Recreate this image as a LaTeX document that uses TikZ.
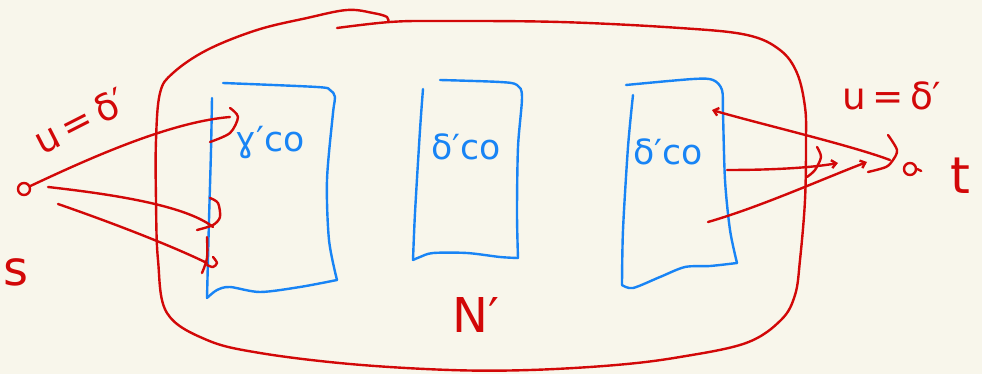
\documentclass[tikz,border=0pt]{standalone}
\usepackage{fontspec}
\setmainfont{DejaVu Sans}
\usetikzlibrary{arrows.meta}
\definecolor{bg}{RGB}{248,246,235}
\definecolor{pen}{RGB}{210,8,8}
\definecolor{ink}{RGB}{24,132,245}
\begin{document}
\begin{tikzpicture}[x=0.75pt,y=-0.75pt,line cap=round,line join=round,
  pr/.style={draw=pen,line width=1.8pt},
  pb/.style={draw=ink,line width=1.8pt},
  smalltip/.style={-{Straight Barb[length=3.5pt,width=6pt]}},
  rlbl/.style={text=pen,inner sep=0pt,font=\fontsize{28}{30}\selectfont},
  blbl/.style={text=ink,inner sep=0pt,font=\fontsize{26}{28}\selectfont},
  dotnode/.style={circle,draw=pen,line width=1.8pt,minimum size=9pt,inner sep=0pt}]
\fill[bg] (0,0) rectangle (982,374);
\useasboundingbox (0,0) rectangle (982,374);

% outer network N'
\draw[pr] plot[smooth,tension=0.6] coordinates {(337,28) (390,22) (440,21) (560,22) (680,28) (747,35) (780,50) (797,73) (805,107) (806,140) (805,200) (800,260) (795,295) (781,320) (746,343) (680,357) (616,365) (530,370) (450,370) (350,364) (260,353) (207,340) (167,313) (158,260) (156,200) (156,140) (160,93) (173,73) (207,50) (257,30) (307,18) (347,10) (373,13) (387,17) (388,22)};

% box 1
\draw[pb] plot[smooth] coordinates {(212,98) (211,150) (209,220) (207,298)};
\draw[pb] plot[smooth] coordinates {(207,298) (217,290) (230,287) (260,292) (300,287) (337,280)};
\draw[pb] plot[smooth,tension=0.5] coordinates {(337,280) (329,240) (327,180) (333,113) (335,97) (330,90) (317,87) (223,83)};
% box 2
\draw[pb] plot[smooth] coordinates {(423,89) (420,130) (415,213) (413,260)};
\draw[pb] plot[smooth] coordinates {(413,260) (420,257) (433,253) (467,253) (500,257) (518,258)};
\draw[pb] plot[smooth,tension=0.5] coordinates {(518,258) (517,213) (518,147) (522,97) (517,85) (500,82) (440,80)};
% box 3
\draw[pb] plot[smooth] coordinates {(633,95) (628,147) (623,230) (622,285)};
\draw[pb] plot[smooth] coordinates {(622,285) (633,288) (660,277) (685,267) (710,266) (737,263)};
\draw[pb] plot[smooth,tension=0.5] coordinates {(737,263) (730,230) (725,180) (723,113) (722,90) (713,80) (693,79) (626,85)};

% box labels
\node[blbl] (g1) at (270,143) {ɣ′co};
\node[blbl] (g2) at (466,147) {δ′co};
\node[blbl] (g3) at (668,152) {δ′co};

% nodes
\node[dotnode] (s) at (24,189) {};
\node[dotnode] (t) at (910,169) {};
\coordinate (p1) at (230,117);
\coordinate (p2a) at (48,187);
\coordinate (p2) at (213,227);
\coordinate (p3a) at (58,204);
\coordinate (p3) at (207,263);
\coordinate (q1) at (712,110);
\coordinate (q2a) at (727,170);
\coordinate (q2) at (838,163);
\coordinate (q3a) at (708,222);
\coordinate (q3) at (867,162);
\coordinate (q1a) at (890,160);

% left connectors
\draw[pr] (s) .. controls (90,158) and (170,122) .. (p1);
\draw[pr] plot[smooth] coordinates {(230,108) (238,117) (230,133) (210,142)};
\draw[pr] (p2a) .. controls (110,194) and (185,205) .. (p2);
\draw[pr] plot[smooth] coordinates {(210,198) (218,203) (220,217) (213,225) (197,230)};
\draw[pr] (p3a) .. controls (110,222) and (170,245) .. (p3);
\draw[pr] plot[smooth] coordinates {(207,237) (207,258) (202,273)};
\draw[pr] plot[smooth] coordinates {(213,257) (217,263) (213,267) (207,265)};

% right connectors
\draw[pr,smalltip] (q1a) .. controls (850,145) and (760,124) .. (q1);
\draw[pr,smalltip] (q2a) .. controls (770,170) and (810,168) .. (q2);
\draw[pr] plot[smooth] coordinates {(817,147) (821,157) (815,170) (807,177)};
\draw[pr,smalltip] (q3a) .. controls (760,207) and (820,180) .. (q3);
\draw[pr] plot[smooth] coordinates {(888,135) (897,150) (893,160) (886,167) (868,172)};
\draw[pr] (t.east) -- ++(4,2);

% labels
\node[rlbl,rotate=27] (lu) at (80,121) {u\,=\,δ′};
\node[rlbl] (ru) at (892,96) {u\,=\,δ′};
\node[rlbl,font=\fontsize{36}{38}\selectfont] (sl) at (16,272) {s};
\node[rlbl,font=\fontsize{38}{40}\selectfont] (tl) at (960,176) {t};
\node[rlbl,font=\fontsize{36}{38}\selectfont] (nl) at (476,315) {N′};
\end{tikzpicture}
\end{document}
